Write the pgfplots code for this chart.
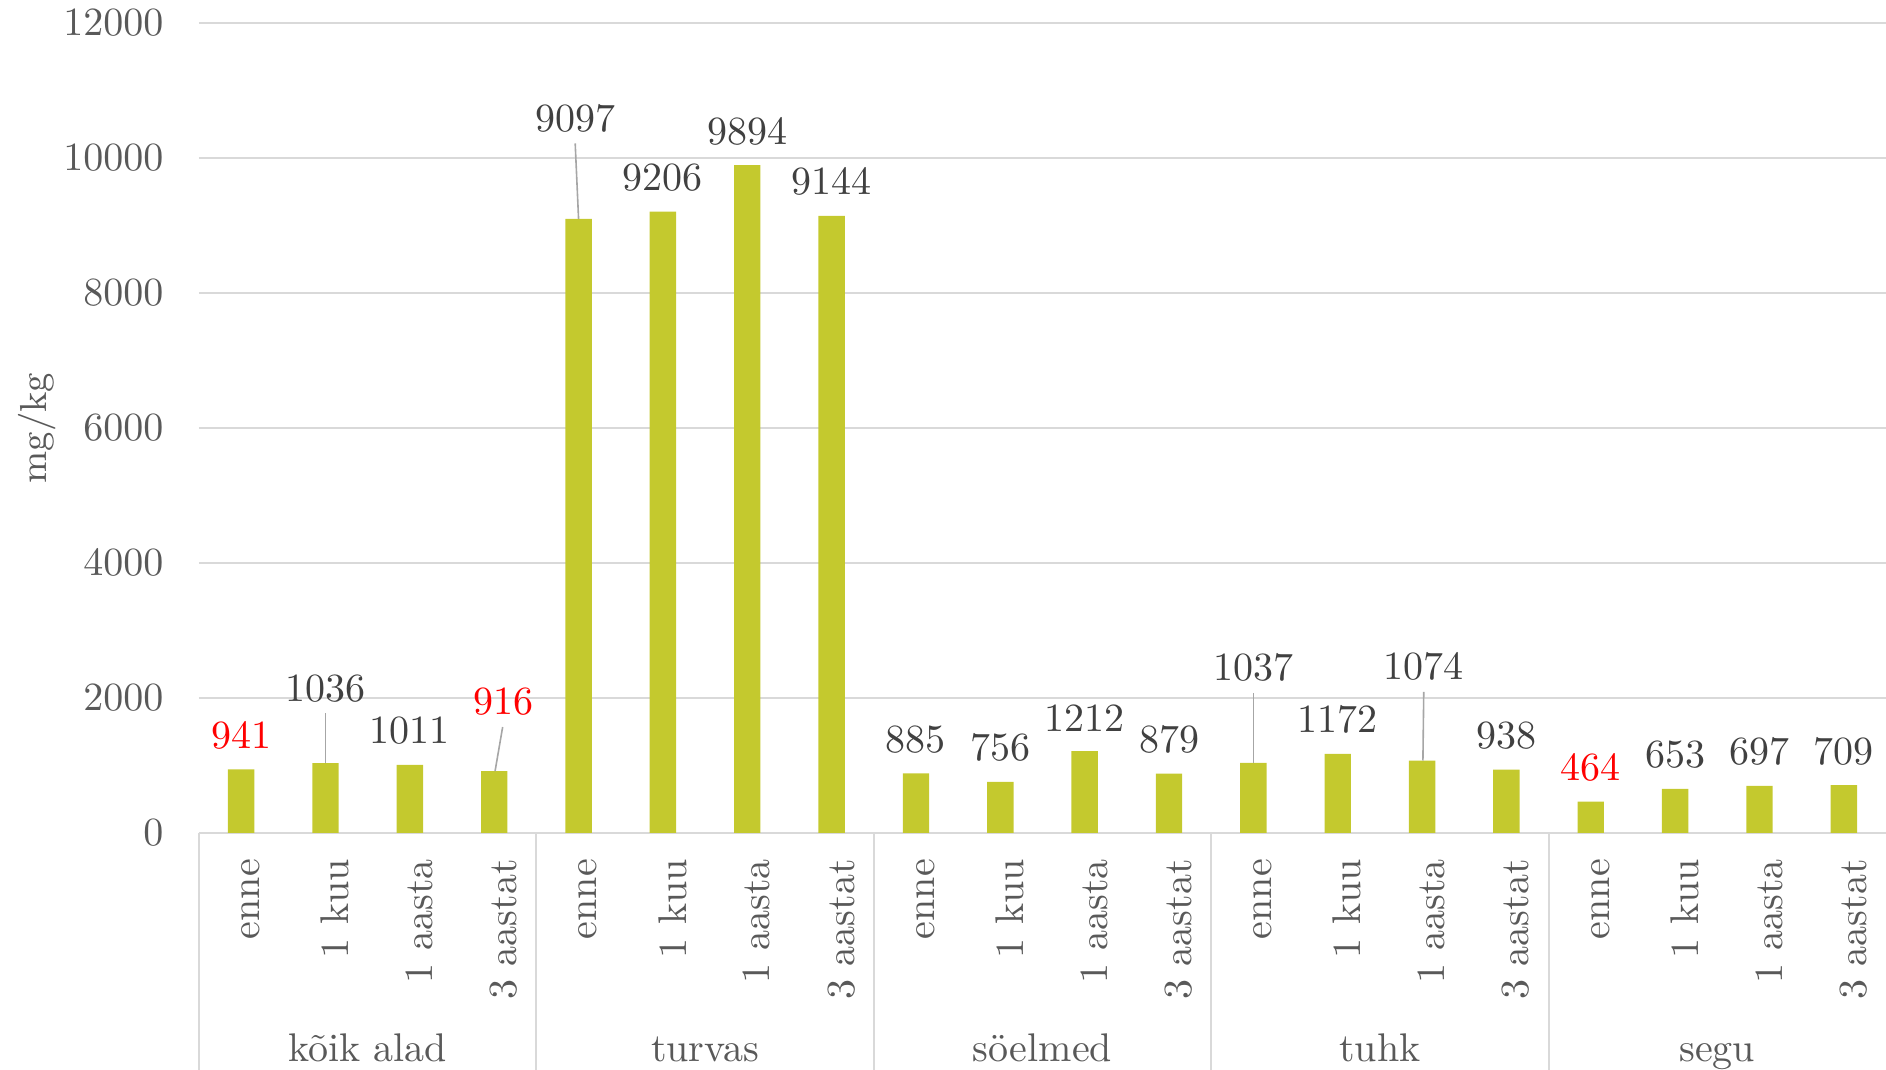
\documentclass[border=0pt]{standalone}
\usepackage{fontspec}
\usepackage{pgfplots}
\usepackage{pgfplotstable}
\pgfplotsset{compat=1.18}

\definecolor{barcol}{HTML}{C4C92E}
\definecolor{gridcol}{HTML}{D9D9D9}
\definecolor{tickcol}{HTML}{595959}
\definecolor{labcol}{HTML}{404040}
\definecolor{leadcol}{HTML}{A6A6A6}
\definecolor{redlab}{HTML}{FF0000}

% all bars: kõik alad, turvas, söelmed, tuhk, segu (enne, 1 kuu, 1 aasta, 3 aastat)
\pgfplotstableread{
x y
0 941
1 1036
2 1011
3 916
4 9097
5 9206
6 9894
7 9144
8 885
9 756
10 1212
11 879
12 1037
13 1172
14 1074
15 938
16 464
17 653
18 697
19 709
}\bars

% labels sitting right above their bar
\pgfplotstableread{
x y lab
2 1011 1011
5 9206 9206
6 9894 9894
7 9144 9144
8 885 885
9 756 756
10 1212 1212
11 879 879
13 1172 1172
15 938 938
17 653 653
18 697 697
19 709 709
}\stdlab
\pgfplotstableread{
x y lab
0 941 941
16 464 464
}\stdred

% labels moved away, with a leader line
\pgfplotstableread{
x y lab
1.0 2145 1036
3.96 10580 9097
12.0 2450 1037
14.02 2470 1074
}\leadlab
\pgfplotstableread{
x y lab
3.11 1940 916
}\leadred

\begin{document}
\begin{tikzpicture}
\fontsize{10}{12}\selectfont
\begin{axis}[
    scale only axis,
    width=421.75pt, height=202.5pt,
    xmin=-0.5, xmax=19.5,
    ymin=0, ymax=12000,
    clip=false,
    axis line style={draw=none},
    major tick length=0pt,
    ymajorgrids,
    grid style={color=gridcol, line width=0.5pt},
    ytick={0,2000,...,12000},
    scaled y ticks=false,
    /pgf/number format/.cd, 1000 sep={}, /pgfplots/.cd,
    yticklabel style={text=tickcol, xshift=-5.4pt},
    xtick={0,...,19},
    xticklabels={enne,1 kuu,1 aasta,3 aastat,enne,1 kuu,1 aasta,3 aastat,enne,1 kuu,1 aasta,3 aastat,enne,1 kuu,1 aasta,3 aastat,enne,1 kuu,1 aasta,3 aastat},
    % rotated frame: xshift moves along the text (down), yshift across it
    xticklabel style={rotate=90, anchor=east, text=tickcol, yshift=-2.4pt, xshift=-3pt},
]
\addplot[ybar, bar width=6.6pt, fill=barcol, draw=none] table {\bars};

\addplot[draw=none, nodes near coords, point meta=explicit symbolic,
    nodes near coords style={anchor=south, text=labcol, yshift=1.5pt}]
    table[meta=lab] {\stdlab};
\addplot[draw=none, nodes near coords, point meta=explicit symbolic,
    nodes near coords style={anchor=south, text=redlab, yshift=1.5pt}]
    table[meta=lab] {\stdred};
\addplot[draw=none, nodes near coords, point meta=explicit symbolic,
    nodes near coords style={anchor=center, text=labcol}]
    table[meta=lab] {\leadlab};
\addplot[draw=none, nodes near coords, point meta=explicit symbolic,
    nodes near coords style={anchor=center, text=redlab}]
    table[meta=lab] {\leadred};

% leader lines
\addplot[leadcol, line width=0.4pt] coordinates {(1,1036) (1,1780)};
\addplot[leadcol, line width=0.4pt] coordinates {(3.01,916) (3.10,1570)};
\addplot[leadcol, line width=0.4pt] coordinates {(4.0,9097) (3.96,10215)};
\addplot[leadcol, line width=0.4pt] coordinates {(12,1037) (12,2075)};
\addplot[leadcol, line width=0.4pt] coordinates {(14.01,1074) (14.02,2090)};

% y label
\node[rotate=90, text=tickcol, font=\fontsize{9.4}{11}\selectfont]
  at ([xshift=-40.4pt]axis description cs:0,0.5) {mg/kg};

% group separators and group names
\draw[gridcol, line width=0.5pt] (axis cs:-0.5,0) -- ([yshift=-59.25pt]axis cs:-0.5,0);
\draw[gridcol, line width=0.5pt] (axis cs:3.5,0) -- ([yshift=-59.25pt]axis cs:3.5,0);
\draw[gridcol, line width=0.5pt] (axis cs:7.5,0) -- ([yshift=-59.25pt]axis cs:7.5,0);
\draw[gridcol, line width=0.5pt] (axis cs:11.5,0) -- ([yshift=-59.25pt]axis cs:11.5,0);
\draw[gridcol, line width=0.5pt] (axis cs:15.5,0) -- ([yshift=-59.25pt]axis cs:15.5,0);
\node[text=tickcol, anchor=base] at ([yshift=-57.2pt]axis cs:1.5,0) {kõik alad};
\node[text=tickcol, anchor=base] at ([yshift=-57.2pt]axis cs:5.5,0) {turvas};
\node[text=tickcol, anchor=base] at ([yshift=-57.2pt]axis cs:9.5,0) {söelmed};
\node[text=tickcol, anchor=base] at ([yshift=-57.2pt]axis cs:13.5,0) {tuhk};
\node[text=tickcol, anchor=base] at ([yshift=-57.2pt]axis cs:17.5,0) {segu};
\end{axis}
\pgfresetboundingbox
\useasboundingbox (-49.75pt,-59.25pt) rectangle (421.75pt,208.25pt);
\end{tikzpicture}
\end{document}
